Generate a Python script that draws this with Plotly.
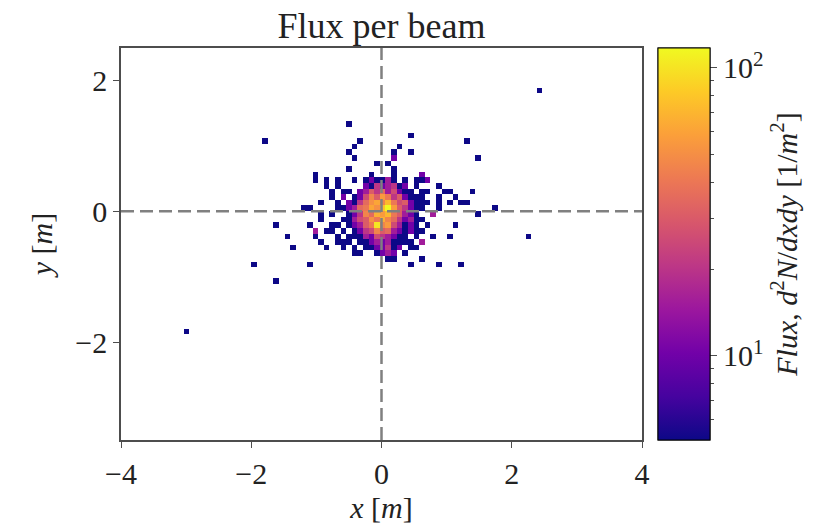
import numpy as np
import plotly.graph_objects as go

# Filled bins of the beam flux histogram: one entry per populated row (y centre, m),
# with the x centres (m) and flux values (1/m^2) of the filled bins in that row.
row_y = [1.85, 1.33, 1.16, 1.08, 0.99, 0.90, 0.82, 0.73, 0.65, 0.56,
         0.47, 0.39, 0.30, 0.22, 0.13, 0.04, -0.04, -0.13, -0.22, -0.30,
         -0.39, -0.47, -0.56, -0.65, -0.73, -0.82, -1.08, -1.85]

row_x = [
    [2.42],
    [-0.50],
    [0.44],
    [-1.79, -0.33, 1.30],
    [-0.42, 0.27],
    [-0.50, 0.19, 0.44],
    [-0.42, 0.19, 1.48],
    [-0.07, 0.10],
    [-0.50, 0.19],
    [-1.02, -0.16, 0.19, 0.62],
    [-1.02, -0.85, -0.67, -0.42, -0.24, -0.16, -0.07, 0.02, 0.10, 0.19, 0.36, 0.53, 0.62, 0.70],
    [-0.85, -0.67, -0.24, -0.16, -0.07, 0.02, 0.10, 0.19, 0.27, 0.36, 0.53, 0.88],
    [-0.76, -0.59, -0.50, -0.33, -0.24, -0.16, -0.07, 0.02, 0.10, 0.19, 0.27, 0.36, 0.44,
     0.62, 0.70, 0.96, 1.05, 1.39],
    [-0.76, -0.59, -0.42, -0.33, -0.24, -0.16, -0.07, 0.02, 0.10, 0.19, 0.27, 0.36, 0.44,
     0.53, 0.62, 0.88, 1.13],
    [-0.93, -0.67, -0.50, -0.42, -0.33, -0.24, -0.16, -0.07, 0.02, 0.10, 0.19, 0.27, 0.36,
     0.44, 0.53, 0.62, 0.70, 0.88, 1.05, 1.22, 1.30],
    [-1.19, -1.10, -0.67, -0.59, -0.50, -0.42, -0.33, -0.24, -0.16, -0.07, 0.02, 0.10, 0.19,
     0.27, 0.36, 0.44, 0.53, 0.62, 0.88, 1.74],
    [-0.93, -0.76, -0.50, -0.42, -0.33, -0.24, -0.16, -0.07, 0.02, 0.10, 0.19, 0.27, 0.36,
     0.44, 0.53, 0.79, 1.48],
    [-0.93, -0.59, -0.50, -0.42, -0.33, -0.24, -0.16, -0.07, 0.02, 0.10, 0.19, 0.27, 0.36,
     0.44, 0.53, 0.62],
    [-1.62, -1.10, -0.76, -0.67, -0.50, -0.42, -0.33, -0.24, -0.16, -0.07, 0.02, 0.10, 0.19,
     0.27, 0.36, 0.44, 0.53, 0.70, 1.13],
    [-1.02, -0.85, -0.76, -0.59, -0.42, -0.33, -0.24, -0.16, -0.07, 0.02, 0.10, 0.19, 0.27,
     0.36, 0.44, 0.53, 0.62],
    [-1.45, -1.02, -0.67, -0.50, -0.42, -0.33, -0.24, -0.16, -0.07, 0.02, 0.10, 0.19, 0.27,
     0.36, 0.53, 0.79, 1.05, 2.25],
    [-0.93, -0.67, -0.59, -0.50, -0.33, -0.24, -0.16, -0.07, 0.02, 0.10, 0.19, 0.27, 0.36,
     0.44, 0.62],
    [-1.36, -0.85, -0.59, -0.42, -0.24, -0.16, -0.07, 0.02, 0.10, 0.19, 0.27, 0.44, 0.53],
    [-0.42, -0.33, -0.07, 0.02, 0.10, 0.19, 0.36],
    [0.10, 0.19, 0.62],
    [-1.96, -1.10, 0.44, 0.88, 1.22],
    [-1.62],
    [-3.00],
]

row_flux = [
    [5.1],
    [5.1],
    [5.1],
    [5.1, 5.1, 5.1],
    [5.1, 5.1],
    [5.1, 5.1, 5.1],
    [5.1, 10.2, 5.1],
    [5.1, 5.1],
    [5.1, 5.1],
    [5.1, 5.1, 5.1, 10.2],
    [5.1, 5.1, 5.1, 5.1, 5.1, 10.2, 5.1, 5.1, 15.3, 5.1, 5.1, 5.1, 5.1, 10.2],
    [5.1, 5.1, 10.2, 5.1, 20.4, 10.2, 15.3, 20.4, 5.1, 10.2, 5.1, 5.1],
    [5.1, 5.1, 5.1, 10.2, 15.3, 30.6, 20.4, 35.7, 15.3, 25.5, 10.2, 5.1, 5.1,
     5.1, 5.1, 5.1, 5.1, 5.1],
    [5.1, 10.2, 5.1, 10.2, 25.5, 45.9, 30.6, 56.1, 40.8, 20.4, 30.6, 10.2, 5.1,
     5.1, 5.1, 5.1, 5.1],
    [5.1, 5.1, 10.2, 5.1, 20.4, 35.7, 51.0, 61.2, 45.9, 71.4, 40.8, 25.5, 30.6,
     10.2, 5.1, 5.1, 5.1, 5.1, 5.1, 5.1, 5.1],
    [5.1, 5.1, 5.1, 5.1, 10.2, 15.3, 35.7, 40.8, 61.2, 51.0, 76.5, 117.3, 56.1,
     30.6, 20.4, 10.2, 5.1, 5.1, 5.1, 5.1],
    [5.1, 5.1, 5.1, 10.2, 20.4, 45.9, 35.7, 66.3, 56.1, 71.4, 40.8, 30.6, 15.3,
     10.2, 5.1, 15.3, 5.1],
    [5.1, 5.1, 5.1, 15.3, 25.5, 30.6, 51.0, 40.8, 66.3, 45.9, 35.7, 20.4, 10.2,
     15.3, 5.1, 5.1],
    [5.1, 5.1, 5.1, 5.1, 5.1, 10.2, 15.3, 30.6, 40.8, 102.0, 45.9, 56.1, 25.5,
     15.3, 5.1, 10.2, 5.1, 5.1, 5.1],
    [15.3, 5.1, 5.1, 5.1, 5.1, 10.2, 20.4, 25.5, 45.9, 30.6, 35.7, 15.3, 10.2,
     5.1, 10.2, 5.1, 5.1],
    [5.1, 5.1, 5.1, 5.1, 5.1, 5.1, 15.3, 10.2, 25.5, 20.4, 15.3, 10.2, 5.1,
     5.1, 5.1, 5.1, 5.1, 5.1],
    [5.1, 5.1, 5.1, 5.1, 5.1, 5.1, 10.2, 15.3, 10.2, 15.3, 5.1, 5.1, 5.1,
     5.1, 15.3],
    [5.1, 5.1, 5.1, 5.1, 5.1, 5.1, 10.2, 10.2, 20.4, 5.1, 10.2, 5.1, 5.1],
    [5.1, 5.1, 5.1, 10.2, 15.3, 10.2, 5.1],
    [5.1, 5.1, 5.1],
    [5.1, 5.1, 5.1, 5.1, 5.1],
    [5.1],
    [5.1],
]

# Colour scale limits (1/m^2) and colourbar ticks
flux_min, flux_max = 5.1, 117.0
cbar_major = [10, 100]
cbar_major_text = ["10<sup>1</sup>", "10<sup>2</sup>"]
cbar_minor = [6, 7, 8, 9, 20, 30, 40, 50, 60, 70, 80, 90]

x_ticks = [-4, -2, 0, 2, 4]
y_ticks = [-2, 0, 2]

# Histogram binning (bin width and bin-centre offsets, m)
BIN = 0.086
X_OFF = 0.015
Y_OFF = 0.043

# ---- assemble the regular bin grid --------------------------------------
assert len(row_y) == len(row_x) == len(row_flux)
cells = []
for yv, xs, fs in zip(row_y, row_x, row_flux):
    assert len(xs) == len(fs)
    jy = int(round((yv - Y_OFF) / BIN))
    for xv, fv in zip(xs, fs):
        ix = int(round((xv - X_OFF) / BIN))
        cells.append((ix, jy, fv))

i_lo = min(c[0] for c in cells) - 1
i_hi = max(c[0] for c in cells) + 1
j_lo = min(c[1] for c in cells) - 1
j_hi = max(c[1] for c in cells) + 1
z = np.full((j_hi - j_lo + 1, i_hi - i_lo + 1), np.nan)
for ix, jy, fv in cells:
    z[jy - j_lo, ix - i_lo] = np.log10(fv)
x_centres = X_OFF + BIN * np.arange(i_lo, i_hi + 1)
y_centres = Y_OFF + BIN * np.arange(j_lo, j_hi + 1)

FONT = "Liberation Serif"
AX_COL = "#4d4d4d"
zmin, zmax = np.log10(flux_min), np.log10(flux_max)

cb_common = dict(
    x=(658 - 121) / 521, xanchor="left", xpad=0,
    y=0.5, yanchor="middle", ypad=0,
    len=1, lenmode="fraction", thickness=52,
    outlinecolor="black", outlinewidth=1,
    ticks="outside", tickcolor=AX_COL,
)

fig = go.Figure()
fig.add_trace(go.Heatmap(
    x=x_centres, y=y_centres, z=z,
    colorscale="Plasma", zmin=zmin, zmax=zmax, zsmooth=False,
    hoverongaps=False,
    colorbar=dict(
        **cb_common,
        tickvals=np.log10(cbar_major), ticktext=cbar_major_text, ticklen=7,
        tickfont=dict(family=FONT, size=30, color="#222"),
        title=dict(
            text="<i>Flux</i>, <i>d</i><sup>2</sup><i>N</i>/<i>dxdy</i> [1/<i>m</i><sup>2</sup>]",
            side="right", font=dict(family=FONT, size=30, color="#222")),
    ),
))
# minor colourbar ticks
fig.add_trace(go.Scatter(
    x=[None], y=[None], mode="markers", showlegend=False, hoverinfo="skip",
    marker=dict(
        color=[zmin], colorscale="Plasma", cmin=zmin, cmax=zmax, showscale=True,
        colorbar=dict(**cb_common, tickvals=np.log10(cbar_minor), ticklen=4,
                      showticklabels=False),
    ),
))

# dashed cross-hairs through the origin
dash = dict(color="#808080", width=2.5, dash="13px,6px")
fig.add_shape(type="line", xref="x", yref="y domain", x0=0, x1=0, y0=0, y1=1,
              line=dash, layer="above")
fig.add_shape(type="line", xref="x domain", yref="y", x0=0, x1=1, y0=0, y1=0,
              line=dash, layer="above")

axis_common = dict(
    showline=True, mirror=True, linecolor=AX_COL, linewidth=1.5,
    ticks="outside", ticklen=6, tickwidth=1.2, tickcolor=AX_COL,
    showgrid=False, zeroline=False,
    tickfont=dict(family=FONT, size=30, color="#222"),
)
fig.update_xaxes(
    **axis_common, range=[-4, 4], tickvals=x_ticks,
    ticktext=[str(v).replace("-", "\u2212") for v in x_ticks],
    title=dict(text="<i>x</i> [<i>m</i>]", standoff=8,
               font=dict(family=FONT, size=30, color="#222")),
)
fig.update_yaxes(
    **axis_common, range=[-3.5, 2.5], tickvals=y_ticks,
    ticktext=[str(v).replace("-", "\u2212") for v in y_ticks],
    title=dict(text="<i>y</i> [<i>m</i>]", standoff=14,
               font=dict(family=FONT, size=30, color="#222")),
)

fig.update_layout(
    width=826, height=529,
    margin=dict(l=121, r=184, t=48, b=89, autoexpand=False),
    paper_bgcolor="white", plot_bgcolor="white",
    title=dict(text="Flux per beam", x=(121 + 642) / 2 / 826, xanchor="center",
               y=1 - 25 / 529, yanchor="middle",
               font=dict(family=FONT, size=36, color="#222")),
    showlegend=False,
)

fig.write_html("out.html")
